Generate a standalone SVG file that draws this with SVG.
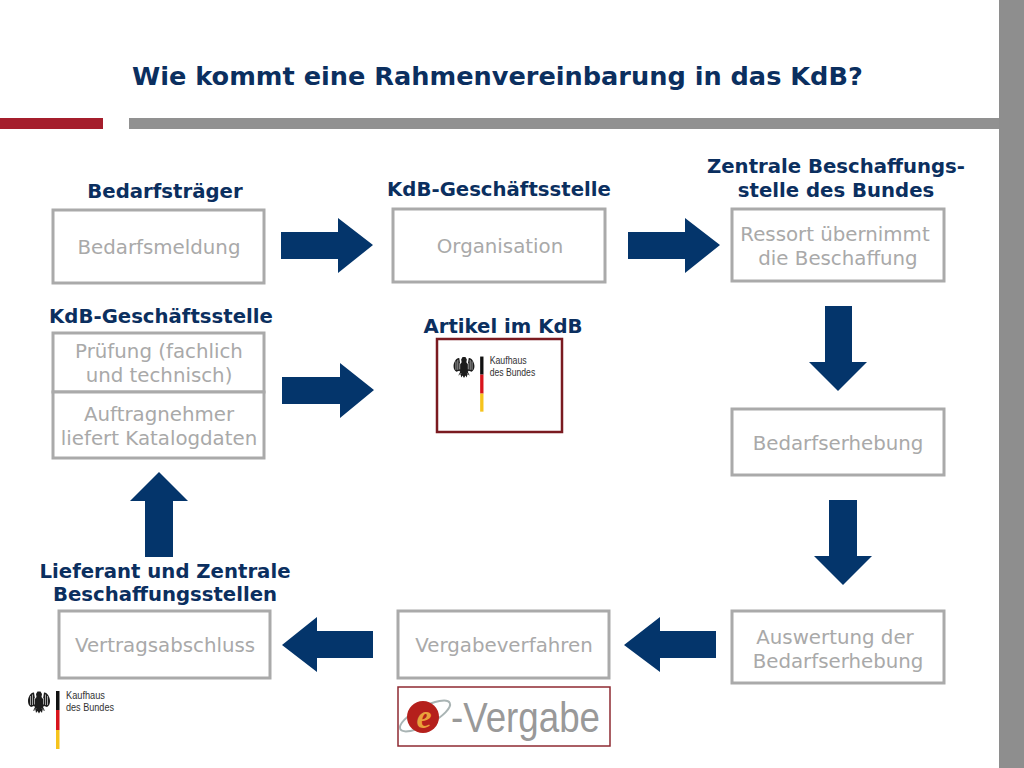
<svg xmlns="http://www.w3.org/2000/svg" xmlns:xlink="http://www.w3.org/1999/xlink" width="1024" height="768" viewBox="0 0 1024 768">
<style>
text{font-family:"DejaVu Sans","Liberation Sans",sans-serif}
.h{font-weight:bold;font-size:19.700px;fill:#0b2f5f;text-anchor:middle}
.t{font-size:19.800px;fill:#a9a9a9;text-anchor:middle}
.b{fill:#fff;stroke:#aaa;stroke-width:3}
.a{fill:#04356b}
.lg{font-family:"Liberation Sans",sans-serif;font-size:11.500px;fill:#333}
</style>
<defs>
<g id="logo">
<path d="M-1.500 -10.500L1.500 -10.500L3 -8L2.500 -5L4 -3L5 -9.500C8 -10 11 -5 11 -1C11 2 10 4 8 5L5 4L4 5L6 9L3.500 8L3 11L1.500 9L0 11.500L-1.500 9L-3 11L-3.500 8L-6 9L-4 5L-5 4L-8 5C-10 4 -11 2 -11 -1C-11 -5 -8 -10 -5 -9.500L-4 -3L-2.500 -5L-3 -8Z" fill="#1c1c1c"/>
<path d="M-8.500 -6V3M-6.500 -7.500V3M-4.500 -4V2.500M8.500 -6V3M6.500 -7.500V3M4.500 -4V2.500M-3 6.500L-5 8.500M3 6.500L5 8.500" stroke="#fff" stroke-width=".6" fill="none"/>
<rect x="17" y="-11" width="3.500" height="19" fill="#111"/>
<rect x="17" y="8" width="3.500" height="20" fill="#d8141c"/>
<rect x="17" y="28" width="3.500" height="19" fill="#f6c31c"/>
<text class="lg" x="27" y="-3" textLength="39" lengthAdjust="spacingAndGlyphs">Kaufhaus</text>
<text class="lg" x="27" y="9" textLength="48" lengthAdjust="spacingAndGlyphs">des Bundes</text>
</g>
</defs>
<rect id="bg" width="1024" height="768" fill="#fff"/>
<rect x="999" y="0" width="25" height="768" fill="#8e8e8e"/>
<rect x="0" y="118" width="103" height="11" fill="#a51e2c"/>
<rect x="129" y="118" width="870" height="11" fill="#919191"/>
<text x="132" y="85" font-size="25.600" font-weight="bold" fill="#0b2f5f">Wie kommt eine Rahmenvereinbarung in das KdB?</text>

<g id="connectors">
<path class="a" d="M281 232H338V218L373 245L338 273V259H281Z"/>
<path class="a" d="M628 232H685V218L720 245L685 273V259H628Z"/>
<path class="a" d="M282 377H340V363L374 390L340 418V404H282Z"/>
<path class="a" d="M825 306H852V362H867L838 391L809 362H825Z"/>
<path class="a" d="M829 500H857V556H872L843 585L814 556H829Z"/>
<path class="a" d="M716 631H660V617L624 645L660 672V658H716Z"/>
<path class="a" d="M373 631H317V617L282 645L317 672V658H373Z"/>
<path class="a" d="M145 557V501H130L159 472L188 501H173V557Z"/>
</g>

<g id="n1"><text class="h" x="165" y="198">Bedarfsträger</text><rect class="b" x="53" y="210" width="211" height="73"/><text class="t" x="159" y="254">Bedarfsmeldung</text></g>
<g id="n2"><text class="h" x="499" y="196">KdB-Geschäftsstelle</text><rect class="b" x="393" y="209" width="212" height="73"/><text class="t" x="500" y="253">Organisation</text></g>
<g id="n3"><text class="h" x="836" y="173">Zentrale Beschaffungs-</text><text class="h" x="836" y="197">stelle des Bundes</text><rect class="b" x="732" y="209" width="212" height="72"/><text class="t" x="835" y="241">Ressort übernimmt</text><text class="t" x="838" y="265">die Beschaffung</text></g>
<g id="n4"><rect class="b" x="732" y="409" width="212" height="66"/><text class="t" x="838" y="450">Bedarfserhebung</text></g>
<g id="n5"><rect class="b" x="732" y="611" width="212" height="72"/><text class="t" x="835" y="644">Auswertung der</text><text class="t" x="838" y="668">Bedarfserhebung</text></g>
<g id="n6"><rect class="b" x="398" y="611" width="211" height="67"/><text class="t" x="504" y="652">Vergabeverfahren</text></g>
<g id="n7"><text class="h" x="165" y="578">Lieferant und Zentrale</text><text class="h" x="165" y="601">Beschaffungsstellen</text><rect class="b" x="59" y="611" width="211" height="67"/><text class="t" x="165" y="652">Vertragsabschluss</text></g>
<g id="n8"><text class="h" x="161" y="323">KdB-Geschäftsstelle</text><rect class="b" x="53" y="333" width="211" height="59"/><text class="t" x="159" y="358">Prüfung (fachlich</text><text class="t" x="159" y="382">und technisch)</text><rect class="b" x="53" y="392" width="211" height="66"/><text class="t" x="159" y="421">Auftragnehmer</text><text class="t" x="159" y="445">liefert Katalogdaten</text></g>
<g id="n9"><text class="h" x="503" y="333">Artikel im KdB</text><rect x="437" y="339" width="125" height="93" fill="#fff" stroke="#7a1a20" stroke-width="2.500"/><use xlink:href="#logo" href="#logo" transform="translate(464 367) scale(.95)"/></g>
<g id="logo-bottom"><use xlink:href="#logo" href="#logo" x="39" y="702"/></g>
<g id="evergabe">
<rect x="398" y="687" width="212" height="59" fill="#fff" stroke="#8e2a32" stroke-width="1.500"/>
<ellipse cx="425" cy="716" rx="28" ry="9" transform="rotate(-28 425 716)" fill="none" stroke="#a9b4b4" stroke-width="2"/>
<circle cx="423" cy="717" r="16" fill="#b5201c"/>
<text x="424" y="728" font-size="34" font-style="italic" font-weight="bold" fill="#e9a13b" text-anchor="middle" style="font-family:'Liberation Serif',serif">e</text>
<text x="451" y="732" font-size="43" fill="#999" textLength="149" lengthAdjust="spacingAndGlyphs" style="font-family:'Liberation Sans',sans-serif">-Vergabe</text>
</g>
</svg>
